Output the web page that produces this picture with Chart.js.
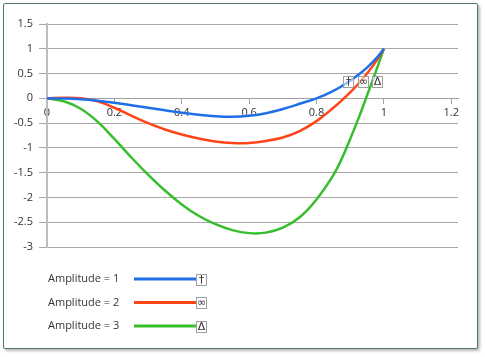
<!DOCTYPE html>
<html>
<head>
<meta charset="utf-8">
<script src="https://cdn.jsdelivr.net/npm/chart.js@4/dist/chart.umd.min.js"></script>
<style>
  html, body { margin: 0; padding: 0; background: #ffffff; }
  #wrap { position: relative; width: 485px; height: 357px; }
  #frame {
    position: absolute; left: 3px; top: 3px; width: 473px; height: 344px;
    border: 1px solid #4b7575; border-radius: 2px;
    box-shadow: 2px 2px 3px rgba(0,0,0,0.28); background: #ffffff;
  }
  #c { position: absolute; left: 0; top: 0; }
</style>
</head>
<body>
<div id="wrap">
  <div id="frame"></div>
  <canvas id="c" width="485" height="357"></canvas>
</div>
<script>
// ---- data ----
const xValues = [0, 0.05, 0.1, 0.15, 0.2, 0.25, 0.3, 0.35, 0.4, 0.45, 0.5, 0.55, 0.6, 0.65, 0.7, 0.75, 0.8, 0.85, 0.875, 0.9, 0.925, 0.95, 0.975, 1];
const amp1 = [0, -0.005, -0.02, -0.05, -0.09, -0.14, -0.19, -0.24, -0.29, -0.33, -0.36, -0.37, -0.35, -0.30, -0.215, -0.11, 0.0, 0.15, 0.245, 0.355, 0.48, 0.62, 0.79, 1];
const amp2 = [0, 0.01, 0.0, -0.06, -0.19, -0.35, -0.50, -0.63, -0.73, -0.81, -0.87, -0.90, -0.90, -0.86, -0.79, -0.66, -0.46, -0.19, -0.04, 0.12, 0.30, 0.50, 0.73, 1];
const amp3 = [0, -0.06, -0.21, -0.47, -0.82, -1.19, -1.54, -1.86, -2.14, -2.37, -2.54, -2.66, -2.72, -2.71, -2.61, -2.40, -2.04, -1.55, -1.22, -0.82, -0.40, 0.06, 0.52, 1];
const seriesLabels = ['Amplitude = 1', 'Amplitude = 2', 'Amplitude = 3'];
const seriesSymbols = ['\u2020', '\u221E', '\u0394'];
const xTicks = [0, 0.2, 0.4, 0.6, 0.8, 1, 1.2];
const yTicks = [-3, -2.5, -2, -1.5, -1, -0.5, 0, 0.5, 1, 1.5];

const seriesValues = [amp1, amp2, amp3];
const colors = ['#1f6fe8', '#ff4418', '#36be2c'];
const FONT = '"Open Sans", "DejaVu Sans", sans-serif';
const SYMFONT = '"DejaVu Sans", sans-serif';

const datasets = seriesValues.map((vals, i) => ({
  label: seriesLabels[i],
  data: xValues.map((x, j) => ({ x: x, y: vals[j] })),
  borderColor: colors[i],
  backgroundColor: colors[i],
  borderWidth: 2.5,
  pointRadius: 0,
  fill: false,
  tension: 0.4
}));

function drawSymbolBox(ctx, cx, cy, sym) {
  const w = 10, h = 11;
  const x0 = Math.round(cx - w / 2) + 0.5, y0 = Math.round(cy - h / 2) + 0.5;
  ctx.save();
  ctx.fillStyle = 'rgba(255,255,255,0.55)';
  ctx.fillRect(x0, y0, w, h);
  ctx.strokeStyle = '#a0a0a0';
  ctx.lineWidth = 1;
  ctx.strokeRect(x0, y0, w, h);
  ctx.fillStyle = '#333333';
  ctx.font = '11px ' + SYMFONT;
  ctx.textAlign = 'center';
  ctx.textBaseline = 'middle';
  ctx.fillText(sym, x0 + w / 2, y0 + h / 2 + 0.5);
  ctx.restore();
}

const annotPlugin = {
  id: 'annot',
  afterDatasetsDraw(chart, args, opts) {
    const ctx = chart.ctx;
    const xs = chart.scales.x, ys = chart.scales.y;
    opts.anchors.forEach((a, i) => {
      drawSymbolBox(ctx, xs.getPixelForValue(a.x), ys.getPixelForValue(a.y), seriesSymbols[i]);
    });
  },
  afterDraw(chart, args, opts) {
    const ctx = chart.ctx;
    const L = opts.legend;
    chart.data.datasets.forEach((ds, i) => {
      const y = L.top + i * L.gap;
      ctx.save();
      ctx.fillStyle = '#333333';
      ctx.font = '11px ' + FONT;
      ctx.textAlign = 'left';
      ctx.textBaseline = 'middle';
      ctx.fillText(ds.label, L.textX, y);
      ctx.strokeStyle = ds.borderColor;
      ctx.lineWidth = 3;
      ctx.beginPath();
      ctx.moveTo(L.lineX0, y);
      ctx.lineTo(L.lineX1, y);
      ctx.stroke();
      ctx.restore();
      drawSymbolBox(ctx, L.lineX1 + 5, y, seriesSymbols[i]);
    });
  }
};

new Chart(document.getElementById('c'), {
  type: 'line',
  data: { datasets: datasets },
  options: {
    responsive: false,
    animation: false,
    devicePixelRatio: 1,
    layout: { padding: { top: 24, right: 27, bottom: 110, left: 0 } },
    plugins: {
      legend: { display: false },
      tooltip: { enabled: false },
      annot: {
        anchors: [ { x: 0.893, y: 0.34 }, { x: 0.938, y: 0.34 }, { x: 0.979, y: 0.34 } ],
        legend: { top: 279, gap: 23.5, textX: 48, lineX0: 134, lineX1: 196 }
      }
    },
    scales: {
      x: {
        type: 'linear',
        position: { y: 0 },
        min: 0,
        max: 1.22,
        afterBuildTicks: s => { s.ticks = xTicks.map(v => ({ value: v })); },
        afterFit: s => { s.height = 0; },
        ticks: {
          callback: v => String(v),
          color: '#333333',
          font: { size: 11, family: FONT },
          padding: 3,
          maxRotation: 0,
          autoSkip: false
        },
        grid: { drawOnChartArea: false, drawTicks: true, tickLength: 5, color: '#a0a0a0' },
        border: { display: true, color: '#a0a0a0', width: 1 }
      },
      y: {
        type: 'linear',
        min: -3,
        max: 1.5,
        afterBuildTicks: s => { s.ticks = yTicks.map(v => ({ value: v })); },
        afterFit: s => { s.width = 47; },
        ticks: {
          callback: v => String(v),
          color: '#333333',
          font: { size: 11, family: FONT },
          padding: 6
        },
        grid: { color: '#a8a8a8', lineWidth: 1, tickLength: 8 },
        border: { display: true, color: '#bdbdbd', width: 2 }
      }
    }
  },
  plugins: [annotPlugin]
});
</script>
</body>
</html>
